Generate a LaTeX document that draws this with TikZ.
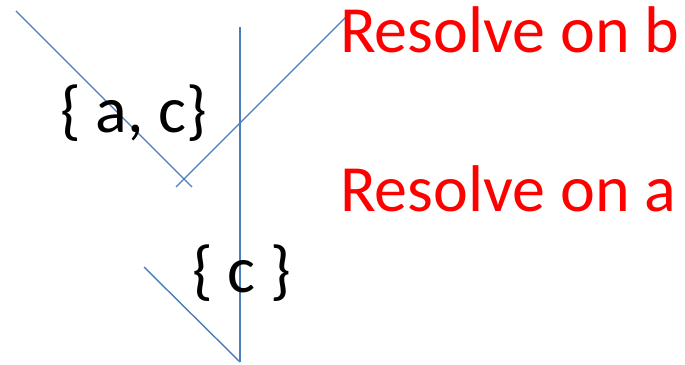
\documentclass[tikz,border=0pt]{standalone}
\usepackage{fontspec}
\setmainfont{Carlito}
\definecolor{lineblue}{HTML}{4A7EBB}
\begin{document}
\begin{tikzpicture}[x=1pt,y=1pt,
  seg/.style={draw=lineblue,line width=1.4pt},
  lbl/.style={inner sep=0pt,anchor=base west,font=\fontsize{66}{70}\selectfont},
  red/.style={lbl,text=red}]
\useasboundingbox (0,0) rectangle (685,364);
\coordinate (p1) at (16,353);
\coordinate (p2) at (192,177);
\coordinate (p3) at (176,177);
\coordinate (p4) at (352,353);
\coordinate (v1) at (240,337);
\coordinate (v2) at (240,2);
\coordinate (q1) at (144,97);
\draw[seg] (p1) -- (p2);
\draw[seg] (p3) -- (p4);
\draw[seg] (v1) -- (v2);
\draw[seg] (q1) -- (v2);
\node[lbl] (ac) at (60,231) {\{ a, c\}};
\node[lbl] (c) at (192,71) {\{ c \}};
\node[red] (rb) at (340,311) {Resolve on b};
\node[red] (ra) at (340,152) {Resolve on a};
\end{tikzpicture}
\end{document}
